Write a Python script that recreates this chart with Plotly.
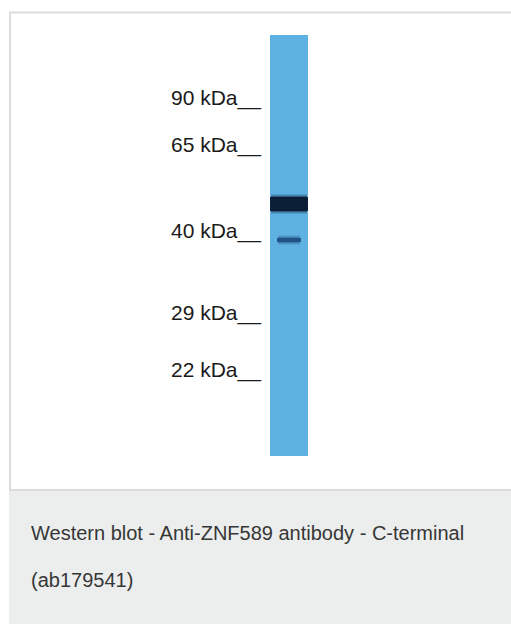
import plotly.graph_objects as go

# ---- data ----
marker_kda = [90, 65, 40, 29, 22]
marker_labels = ["90 kDa__", "65 kDa__", "40 kDa__", "29 kDa__", "22 kDa__"]
marker_migration = [63, 110, 196, 278, 335]      # distance from top of lane
lane_length = 421
band_migration = [169, 205]                      # observed bands
band_thickness = [14, 4]
band_color = ["#081a30", "#1f4f80"]
band_width = [1.0, 0.62]
caption_lines = ["Western blot - Anti-ZNF589 antibody - C-terminal", "(ab179541)"]

W, H = 511, 624
lane_top_px = 35
lane_px_w = 38
lane_center_px = 289

# axis ranges so that data units land on the page
x0 = 1 - lane_center_px / lane_px_w
x1 = x0 + W / lane_px_w
y_top = -lane_top_px
y_bot = H - lane_top_px

fig = go.Figure()

# lane
fig.add_trace(go.Bar(x=[1], y=[lane_length], base=[0], width=[1.0],
                     marker=dict(color="#5eb2e2", line=dict(width=0)),
                     hoverinfo="skip", showlegend=False))

# bands (soft edges via layered bars)
for m, t, c, bw in zip(band_migration, band_thickness, band_color, band_width):
    for grow, op in [(6, 0.12), (4, 0.2), (2, 0.35), (0, 0.92)]:
        fig.add_trace(go.Bar(x=[1], y=[t + grow], base=[m - (t + grow) / 2],
                             width=[bw * (1 if grow == 0 else 0.97)],
                             marker=dict(color=c, opacity=op, line=dict(width=0)),
                             hoverinfo="skip", showlegend=False))

# marker labels
for lab, mg in zip(marker_labels, marker_migration):
    fig.add_annotation(x=263 / W, xref="paper", y=mg, yref="y", text=lab,
                       showarrow=False, xanchor="right", yanchor="middle",
                       font=dict(family="Liberation Sans, Arial, sans-serif", size=21, color="#1a1a1a"))

# caption
for i, line in enumerate(caption_lines):
    fig.add_annotation(x=29 / W, xref="paper", y=1 - (533 + 47 * i) / H, yref="paper",
                       text=line, showarrow=False, xanchor="left", yanchor="middle",
                       font=dict(family="Liberation Sans, Arial, sans-serif",
                                 size=20, color="#363636"))

shapes = [
    # caption panel
    dict(type="rect", xref="paper", yref="paper", x0=9 / W, x1=1, y0=0, y1=1 - 490 / H,
         fillcolor="#eceeed", line=dict(width=0), layer="below"),
    # white panel border
    dict(type="rect", xref="paper", yref="paper", x0=10 / W, x1=1.01, y0=1 - 490 / H, y1=1 - 12.5 / H,
         fillcolor="rgba(0,0,0,0)", line=dict(color="#dcdcdc", width=2), layer="below"),
]

fig.update_layout(
    width=W, height=H, margin=dict(l=0, r=0, t=0, b=0), autosize=False,
    paper_bgcolor="white", plot_bgcolor="rgba(0,0,0,0)",
    barmode="overlay", bargap=0,
    xaxis=dict(range=[x0, x1], visible=False, fixedrange=True),
    yaxis=dict(range=[y_bot, y_top], visible=False, fixedrange=True),
    shapes=shapes,
)

fig.write_html("out.html", config={"displayModeBar": False},
               post_script="document.body.style.margin='0';document.body.style.overflow='hidden';")
